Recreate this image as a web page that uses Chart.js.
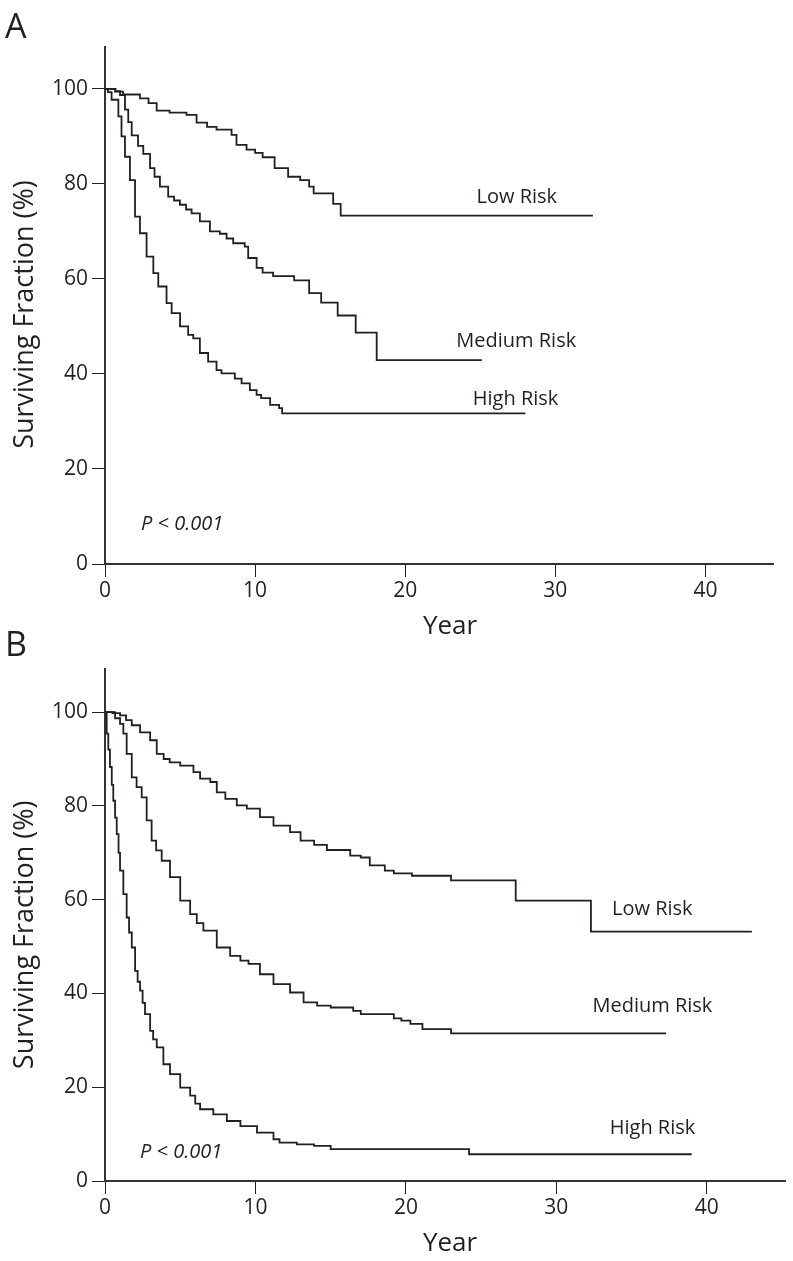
<!DOCTYPE html>
<html>
<head>
<meta charset="utf-8">
<script src="https://cdn.jsdelivr.net/npm/chart.js@4.4.1/dist/chart.umd.min.js"></script>
<style>
  html, body { margin: 0; padding: 0; background: #fff; }
  body { width: 793px; height: 1261px; position: relative; overflow: hidden; }
  canvas { position: absolute; left: 0; }
  #panelA { top: 0; }
  #panelB { top: 620px; }
</style>
</head>
<body>
<canvas id="panelA" width="793" height="640"></canvas>
<canvas id="panelB" width="793" height="641"></canvas>
<script>
// tick labels
const xTicks = [0, 10, 20, 30, 40];
const yTicks = [0, 20, 40, 60, 80, 100];
const groupNames = ['Low Risk', 'Medium Risk', 'High Risk'];
const pText = 'P < 0.001';

// Panel A - years / surviving fraction (%)
const aLowYears = [0, 0.67, 1.2, 2.33, 2.9, 3.44, 4.3, 5.43, 6.1, 6.8, 7.43, 8.43, 8.76, 9.43, 10.0, 10.5, 11.3, 12.2, 13.0, 13.6, 13.9, 15.2, 15.7, 32.5];
const aLowSurv  = [100, 99.4, 98.8, 98.0, 97.0, 95.4, 95.0, 94.5, 92.9, 92.0, 91.4, 90.3, 88.2, 87.2, 86.5, 85.6, 83.3, 81.5, 80.8, 79.4, 78.0, 75.8, 73.3, 73.3];
const aMedYears = [0, 0.7, 1.0, 1.33, 1.55, 1.78, 2.2, 2.55, 3.0, 3.3, 3.66, 4.21, 4.6, 4.99, 5.4, 5.77, 6.32, 6.99, 7.65, 8.1, 8.54, 9.31, 9.54, 10.1, 10.5, 11.2, 12.6, 13.6, 14.4, 15.5, 16.7, 18.1, 25.1];
const aMedSurv  = [100, 99.5, 98.7, 95.6, 93.0, 90.2, 88.0, 86.3, 83.3, 81.5, 79.4, 77.3, 76.5, 75.6, 74.6, 73.8, 72.1, 70.0, 69.5, 68.5, 67.5, 66.8, 64.4, 62.3, 61.3, 60.6, 59.7, 57.0, 55.0, 52.3, 48.7, 42.9, 42.9];
const aHighYears = [0, 0.2, 0.44, 0.89, 1.1, 1.33, 1.66, 2.0, 2.33, 2.77, 3.22, 3.55, 4.1, 4.44, 5.0, 5.54, 5.88, 6.32, 6.87, 7.43, 7.76, 8.65, 9.1, 9.65, 10.1, 10.4, 11.0, 11.6, 11.8, 28.0];
const aHighSurv  = [100, 99.3, 97.7, 94.2, 90.0, 85.7, 80.8, 73.1, 69.6, 64.7, 61.2, 58.4, 54.9, 52.8, 50.0, 48.2, 47.5, 44.4, 42.6, 40.8, 40.1, 39.0, 38.0, 36.6, 35.6, 34.9, 33.5, 32.8, 31.7, 31.7];

// Panel B
const bLowYears = [0, 0.5, 1.0, 1.4, 1.78, 2.33, 3.0, 3.44, 3.9, 4.3, 5.0, 5.88, 6.32, 7.0, 7.43, 8.0, 8.76, 9.43, 10.3, 11.2, 12.3, 13.0, 13.9, 14.75, 16.3, 17.0, 17.6, 18.6, 19.2, 20.4, 23.0, 27.3, 32.3, 43.0];
const bLowSurv  = [100, 99.8, 99.3, 98.3, 97.2, 95.7, 94.0, 91.1, 90.0, 89.3, 88.6, 87.2, 85.8, 85.1, 82.9, 81.5, 80.1, 79.4, 77.6, 75.8, 74.4, 72.6, 71.7, 70.6, 69.4, 69.0, 67.3, 66.2, 65.6, 65.1, 64.1, 59.8, 53.2, 53.2];
const bMedYears = [0, 0.67, 1.0, 1.22, 1.44, 1.78, 2.1, 2.44, 2.77, 3.1, 3.4, 3.77, 4.32, 5.0, 5.66, 6.1, 6.54, 7.43, 8.32, 9.0, 9.54, 10.3, 11.2, 12.3, 13.2, 14.1, 15.0, 16.5, 17.0, 19.2, 19.7, 20.3, 21.1, 23.0, 37.3];
const bMedSurv  = [100, 98.7, 97.5, 95.4, 91.1, 86.1, 84.0, 81.8, 76.9, 72.6, 70.5, 68.3, 64.8, 59.8, 56.9, 55.0, 53.4, 49.8, 48.0, 47.0, 46.3, 44.1, 42.0, 40.2, 38.1, 37.4, 37.0, 36.3, 35.6, 34.7, 34.2, 33.5, 32.4, 31.5, 31.5];
const bHighYears = [0, 0.11, 0.22, 0.33, 0.45, 0.55, 0.67, 0.78, 0.9, 1.0, 1.22, 1.44, 1.6, 1.78, 2.0, 2.17, 2.33, 2.5, 2.66, 3.0, 3.2, 3.44, 3.88, 4.32, 5.0, 5.66, 6.0, 6.32, 7.2, 8.1, 9.0, 10.1, 11.2, 11.6, 12.75, 13.9, 15.0, 24.2, 39.0];
const bHighSurv  = [100, 95.4, 92.0, 88.3, 84.5, 81.1, 77.5, 74.0, 70.0, 66.2, 61.2, 56.2, 53.0, 49.8, 44.8, 42.5, 40.6, 38.0, 35.6, 32.0, 30.2, 28.5, 24.9, 22.8, 19.9, 18.2, 16.5, 15.3, 14.2, 12.8, 11.7, 10.3, 8.9, 8.2, 7.8, 7.5, 6.8, 5.7, 5.7];

// where the curve names and p value sit (years, %)
const aLabelYears = [24.75, 23.4, 24.5];
const aLabelSurv  = [76.0, 45.7, 33.5];
const bLabelYears = [33.7, 32.4, 33.55];
const bLabelSurv  = [56.8, 36.1, 10.1];
const aPPos = [2.4, 7.2];
const bPPos = [2.33, 4.9];

const ink = '#231f20';
const fontFam = '"Open Sans", "Noto Sans", sans-serif';

function toPoints(xs, ys) {
  return xs.map((x, i) => ({ x: x, y: ys[i] }));
}

// draws axis titles, curve names, p value and panel letter
const annotate = {
  id: 'annotate',
  afterDatasetsDraw(chart, args, opts) {
    const ctx = chart.ctx;
    const xs = chart.scales.x, ys = chart.scales.y;
    ctx.save();
    ctx.fillStyle = ink;
    ctx.textAlign = 'left';
    ctx.textBaseline = 'alphabetic';
    ctx.font = '20px ' + fontFam;
    groupNames.forEach((name, i) => {
      ctx.fillText(name, xs.getPixelForValue(opts.labelYears[i]), ys.getPixelForValue(opts.labelSurv[i]));
    });
    ctx.font = 'italic 20px ' + fontFam;
    ctx.fillText(pText, xs.getPixelForValue(opts.pPos[0]), ys.getPixelForValue(opts.pPos[1]));
    ctx.font = '34px ' + fontFam;
    ctx.fillText(opts.letter, 5, opts.letterY);

    // axis titles
    ctx.textAlign = 'center';
    ctx.textBaseline = 'middle';
    ctx.font = '26px ' + fontFam;
    ctx.fillText('Year', 450, opts.yearY);
    ctx.translate(25, ys.getPixelForValue(52.5));
    ctx.rotate(-Math.PI / 2);
    ctx.font = '27px ' + fontFam;
    ctx.fillText('Surviving Fraction (%)', 0, 0);
    ctx.restore();
  }
};

function makePanel(id, series, p) {
  const ctx = document.getElementById(id).getContext('2d');
  return new Chart(ctx, {
    type: 'line',
    data: {
      datasets: series.map((s, i) => ({
        label: groupNames[i],
        data: toPoints(s[0], s[1]),
        borderColor: ink,
        borderWidth: 1.8,
        stepped: 'before',
        pointRadius: 0,
        fill: false
      }))
    },
    options: {
      responsive: false,
      animation: false,
      devicePixelRatio: 1,
      layout: { padding: { left: 0, right: p.padRight, top: p.padTop, bottom: 0 } },
      plugins: {
        legend: { display: false },
        tooltip: { enabled: false },
        annotate: p
      },
      scales: {
        x: {
          type: 'linear',
          min: 0,
          max: p.xMax,
          afterBuildTicks: (scale) => { scale.ticks = xTicks.map(v => ({ value: v })); },
          afterFit: (scale) => { scale.height = p.xAxisH; },
          ticks: { color: ink, font: { family: fontFam, size: 21 }, padding: 1, maxRotation: 0 },
          grid: { drawOnChartArea: false, tickLength: 13, color: ink, lineWidth: 1 },
          border: { color: '#333', width: 2 }
        },
        y: {
          type: 'linear',
          min: 0,
          max: p.yMax,
          afterBuildTicks: (scale) => { scale.ticks = yTicks.map(v => ({ value: v })); },
          afterFit: (scale) => { scale.width = 105; },
          ticks: { color: ink, font: { family: fontFam, size: 21 }, padding: 4 },
          grid: { drawOnChartArea: false, tickLength: 13, color: ink, lineWidth: 1 },
          border: { color: '#333', width: 2 }
        }
      }
    },
    plugins: [annotate]
  });
}

makePanel('panelA',
  [[aLowYears, aLowSurv], [aMedYears, aMedSurv], [aHighYears, aHighSurv]],
  { letter: 'A', letterY: 38, yearY: 627, labelYears: aLabelYears, labelSurv: aLabelSurv, pPos: aPPos,
    xMax: 44.5, yMax: 108.8, padTop: 47, padRight: 20, xAxisH: 76 });

makePanel('panelB',
  [[bLowYears, bLowSurv], [bMedYears, bMedSurv], [bHighYears, bHighSurv]],
  { letter: 'B', letterY: 36, yearY: 624, labelYears: bLabelYears, labelSurv: bLabelSurv, pPos: bPPos,
    xMax: 45.2, yMax: 109.2, padTop: 49, padRight: 8, xAxisH: 80 });
</script>
</body>
</html>
